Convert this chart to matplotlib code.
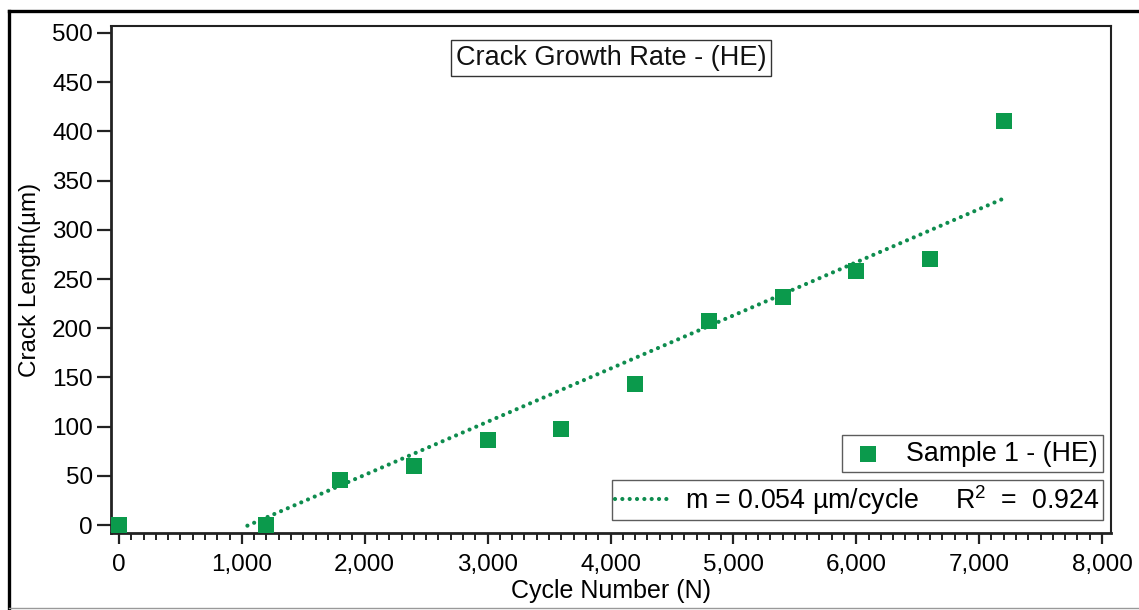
# Crack growth rate (HE) - scatter of crack length vs cycle number with
# the linear trend line reported in the legend (m = 0.054 um/cycle).

import matplotlib
matplotlib.use("Agg")
import matplotlib.pyplot as plt
from matplotlib.lines import Line2D
from matplotlib.ticker import FuncFormatter, MultipleLocator

GREEN = "#0b9a4c"
LINE_GREEN = "#0e8c4e"
EDGE = "#333333"

cycles = [0, 1200, 1800, 2400, 3000, 3600, 4200, 4800, 5400, 6000, 6600, 7200]
crack_length = [0, 0, 46, 60, 86, 98, 143, 207, 232, 258, 270, 410]

# linear trend: y = slope * x + intercept, drawn over fit_range
slope = 0.054
intercept = -57.0
fit_range = [1045, 7200]
r_squared = 0.924

x_ticks = [0, 1000, 2000, 3000, 4000, 5000, 6000, 7000, 8000]
y_ticks = [0, 50, 100, 150, 200, 250, 300, 350, 400, 450, 500]

plt.rcParams.update({
    "font.family": ["Liberation Sans", "DejaVu Sans"],
    "mathtext.fontset": "custom",
    "mathtext.rm": "Liberation Sans",
    "mathtext.it": "Liberation Sans:italic",
})


def main():
    fig = plt.figure(figsize=(11.39, 6.10), dpi=100)
    fig.patch.set_facecolor("white")
    ax = fig.add_axes([111 / 1139, 1 - 533 / 610, 1000 / 1139, 507 / 610])

    # outer frame of the original figure (left/top black, bottom grey)
    fig.add_artist(Line2D([9 / 1139, 9 / 1139], [1 - 11 / 610, 0],
                          transform=fig.transFigure, color="black", lw=2.4))
    fig.add_artist(Line2D([9 / 1139, 1], [1 - 11 / 610, 1 - 11 / 610],
                          transform=fig.transFigure, color="black", lw=2.4))
    fig.add_artist(Line2D([9 / 1139, 1], [2 / 610, 2 / 610],
                          transform=fig.transFigure, color="#999999", lw=1.0))

    ax.scatter(cycles, crack_length, marker="s", s=125, color=GREEN,
               linewidths=0, zorder=3, label="Sample 1 - (HE)")

    fit_y = [slope * x + intercept for x in fit_range]
    fit_line, = ax.plot(fit_range, fit_y, color=LINE_GREEN, lw=3.0,
                        linestyle=(0, (0.01, 1.75)), dash_capstyle="round",
                        zorder=2)

    ax.set_xlim(-65, 8073)
    ax.set_ylim(-8, 507)
    ax.set_xticks(x_ticks)
    ax.set_yticks(y_ticks)
    ax.xaxis.set_minor_locator(MultipleLocator(100))
    ax.xaxis.set_major_formatter(FuncFormatter(lambda v, _: f"{v:,.0f}"))

    ax.tick_params(axis="both", which="major", direction="out",
                   labelsize=17.5, width=1.6, color="#222222")
    ax.tick_params(axis="x", which="major", length=8, pad=7)
    ax.tick_params(axis="x", which="minor", length=5, width=1.4,
                   color="#222222")
    ax.tick_params(axis="y", which="major", length=10, pad=3)

    for side in ("left", "bottom"):
        ax.spines[side].set_linewidth(2.0)
    for side in ("top", "right"):
        ax.spines[side].set_linewidth(1.5)
    for spine in ax.spines.values():
        spine.set_color("#222222")

    ax.set_xlabel("Cycle Number (N)", fontsize=18, labelpad=2)
    ax.set_ylabel("Crack Length(\u00b5m)", fontsize=17.5, labelpad=8)

    ax.text(0.5, 0.937, "Crack Growth Rate - (HE)", transform=ax.transAxes,
            ha="center", va="center", fontsize=19.5, color="#111111",
            bbox=dict(boxstyle="square,pad=0.18", fc="white", ec=EDGE, lw=1.0))

    leg1 = ax.legend(loc="lower right", bbox_to_anchor=(0.992, 0.12),
                     borderaxespad=0, fontsize=19.3, frameon=True,
                     fancybox=False, edgecolor=EDGE, handletextpad=0.6,
                     borderpad=0.2, handlelength=1.6, markerscale=1.0)
    leg1.get_frame().set_linewidth(1.0)
    ax.add_artist(leg1)

    leg2 = ax.legend([fit_line],
                     [f"m = {slope} \u00b5m/cycle     R$^2$  =  {r_squared}"],
                     loc="lower right", bbox_to_anchor=(0.992, 0.026),
                     borderaxespad=0, fontsize=19.3, frameon=True,
                     fancybox=False, edgecolor=EDGE, handlelength=2.0,
                     handletextpad=0.6, borderpad=0.12)
    leg2.get_frame().set_linewidth(1.0)

    fig.savefig("out.png", dpi=100, facecolor="white")


if __name__ == "__main__":
    main()
